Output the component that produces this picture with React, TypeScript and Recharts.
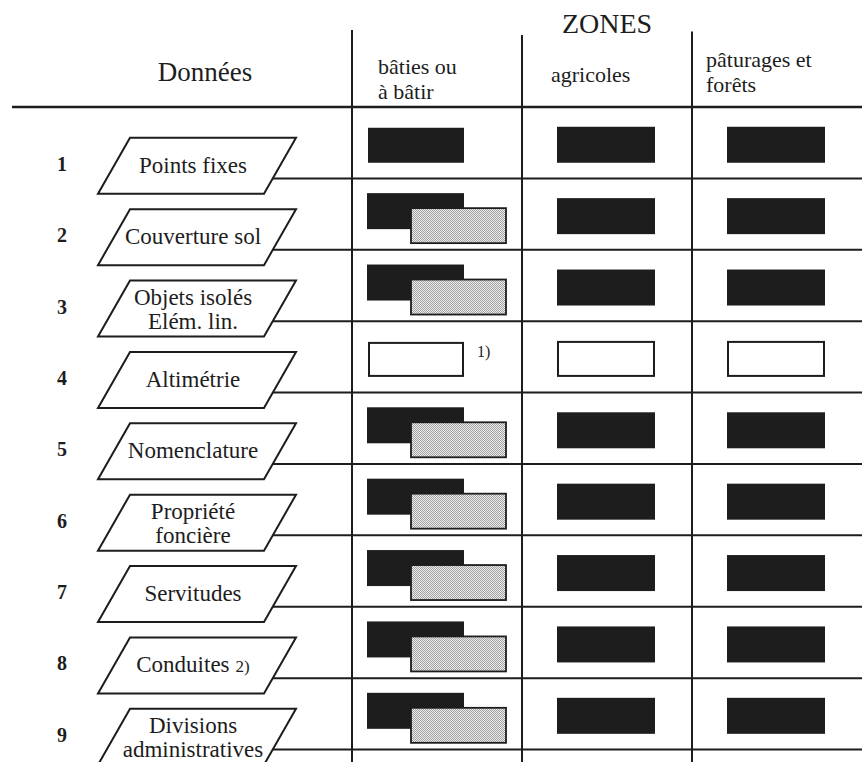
import React from 'react'
import { ScatterChart, Scatter, XAxis, YAxis, ReferenceLine } from 'recharts'

// table content
const dataTitle = 'Données'
const zoneTitle = 'ZONES'
const zoneNames = [['bâties ou', 'à bâtir'], ['agricoles'], ['pâturages et', 'forêts']]
const rowLabels = [
  ['Points fixes'],
  ['Couverture sol'],
  ['Objets isolés', 'Elém. lin.'],
  ['Altimétrie'],
  ['Nomenclature'],
  ['Propriété', 'foncière'],
  ['Servitudes'],
  ['Conduites'],
  ['Divisions', 'administratives'],
]
const rowNotes = ['', '', '', '', '', '', '', '2)', '']

// full = black block, partial = black + stippled, none = empty outline
const batiesCoverage = ['full', 'partial', 'partial', 'none', 'partial', 'partial', 'partial', 'partial', 'partial']
const agricolesCoverage = ['full', 'full', 'full', 'none', 'full', 'full', 'full', 'full', 'full']
const paturagesCoverage = ['full', 'full', 'full', 'none', 'full', 'full', 'full', 'full', 'full']
const batiesNotes = ['', '', '', '1)', '', '', '', '', '']

const headerTicks = [-1, 0.5, 1.5, 2.5]
const columnEdges = [0, 1, 2]

const INK = '#1d1d1d'
const FONT = '"Liberation Serif", "Times New Roman", serif'
const LINE_START = -0.47
const colLineTops = [-1.08, -1.01, -1.06]
const headerDx = [-59, -56, -71]
const headerBaselines = [74, 82, 67]

const coverage = [batiesCoverage, agricolesCoverage, paturagesCoverage]
const cellData = coverage.map((arr, col) =>
  arr.map((status, i) => ({ x: col + 0.5, y: i + 0.5, status, col, note: col === 0 ? batiesNotes[i] : '' }))
)
const labelData = rowLabels.map((lines, i) => ({ x: -1, y: i + 0.5, num: String(i + 1), lines, note: rowNotes[i] }))

const HeaderTick = ({ x, payload }: any) => {
  const idx = headerTicks.indexOf(payload.value)
  if (idx === 0) {
    return (
      <text x={x + 23} y={81} textAnchor="middle" fontFamily={FONT} fontSize={27} fill={INK}>
        {dataTitle}
      </text>
    )
  }
  const z = idx - 1
  if (z < 0) return null
  return (
    <g>
      {z === 1 && (
        <text x={x} y={33} textAnchor="middle" fontFamily={FONT} fontSize={28} fill={INK}>
          {zoneTitle}
        </text>
      )}
      {zoneNames[z].map((line, k) => (
        <text key={k} x={x + headerDx[z]} y={headerBaselines[z] + k * 25} fontFamily={FONT} fontSize={22} fill={INK}>
          {line}
        </text>
      ))}
    </g>
  )
}

const LabelShape = ({ cx, cy, payload }: any) => {
  const px = cx + 15
  const py = cy + 23
  const pts = `${px - 67},${py - 28} ${px + 99},${py - 28} ${px + 67},${py + 28} ${px - 99},${py + 28}`
  const lines: string[] = payload.lines
  const base = lines.length === 1 ? [py + 7] : [py - 4, py + 20]
  return (
    <g>
      <text x={cx - 120} y={cy + 28} textAnchor="middle" fontFamily={FONT} fontSize={20} fontWeight="bold" fill={INK}>
        {payload.num}
      </text>
      <polygon points={pts} fill="#fff" stroke={INK} strokeWidth={2} />
      {lines.map((line, k) => (
        <text key={k} x={px - 4} y={base[k]} textAnchor="middle" fontFamily={FONT} fontSize={23} fill={INK}>
          {line}
          {payload.note && k === lines.length - 1 && <tspan fontSize={17} dx={6}>{payload.note}</tspan>}
        </text>
      ))}
    </g>
  )
}

const CellShape = ({ cx, cy, payload }: any) => {
  const { status, col, note } = payload
  if (col === 0 && status === 'partial') {
    return (
      <g>
        <rect x={cx - 70} y={cy - 21} width={97} height={36} fill={INK} />
        <rect x={cx - 26} y={cy - 6} width={95} height={35} fill="url(#stipple)" stroke={INK} strokeWidth={1.8} />
      </g>
    )
  }
  const box = col === 0 ? { x: cx - 69, y: cy - 15, w: 96, h: 35 } : { x: cx - 50, y: cy - 16, w: 98, h: 36 }
  return (
    <g>
      {status === 'full' ? (
        <rect x={box.x} y={box.y} width={box.w} height={box.h} fill={INK} />
      ) : (
        <rect x={box.x + 1} y={box.y + 1} width={box.w - 2} height={box.h - 2} fill="#fff" stroke={INK} strokeWidth={2} />
      )}
      {note && (
        <text x={cx + 40} y={cy} fontFamily={FONT} fontSize={16} fill={INK}>
          {note}
        </text>
      )}
    </g>
  )
}

export default function App() {
  return (
    <div style={{ width: 862, height: 762, background: '#fff' }}>
      <style>{'body{margin:0}'}</style>
      <ScatterChart width={862} height={762} margin={{ top: -1, right: 0, bottom: 0, left: 12 }}>
        <defs>
          <pattern id="stipple" width="2" height="2" patternUnits="userSpaceOnUse">
            <rect width="2" height="2" fill="#ececec" />
            <rect width="1" height="1" fill="#a2a2a2" />
            <rect x="1" y="1" width="1" height="1" fill="#a2a2a2" />
          </pattern>
        </defs>
        <XAxis
          type="number"
          dataKey="x"
          orientation="top"
          domain={[-2, 3]}
          ticks={headerTicks}
          interval={0}
          height={1}
          axisLine={false}
          tickLine={false}
          tick={<HeaderTick />}
          allowDataOverflow
        />
        <YAxis type="number" dataKey="y" domain={[-1.5, 9.175]} reversed hide allowDataOverflow />

        <ReferenceLine y={0} stroke={INK} strokeWidth={2.5} />
        {rowLabels.map((_, i) => (
          <ReferenceLine
            key={'row' + i}
            segment={[{ x: LINE_START, y: i + 1 }, { x: 3, y: i + 1 }]}
            stroke={INK}
            strokeWidth={2}
          />
        ))}
        {columnEdges.map((c, i) => (
          <ReferenceLine
            key={'col' + i}
            segment={[{ x: c, y: colLineTops[i] }, { x: c, y: 9.175 }]}
            stroke={INK}
            strokeWidth={2}
          />
        ))}

        <Scatter name="Données" data={labelData} shape={<LabelShape />} isAnimationActive={false} />
        {cellData.map((d, col) => (
          <Scatter key={col} name={zoneNames[col].join(' ')} data={d} shape={<CellShape />} isAnimationActive={false} />
        ))}
      </ScatterChart>
    </div>
  )
}
